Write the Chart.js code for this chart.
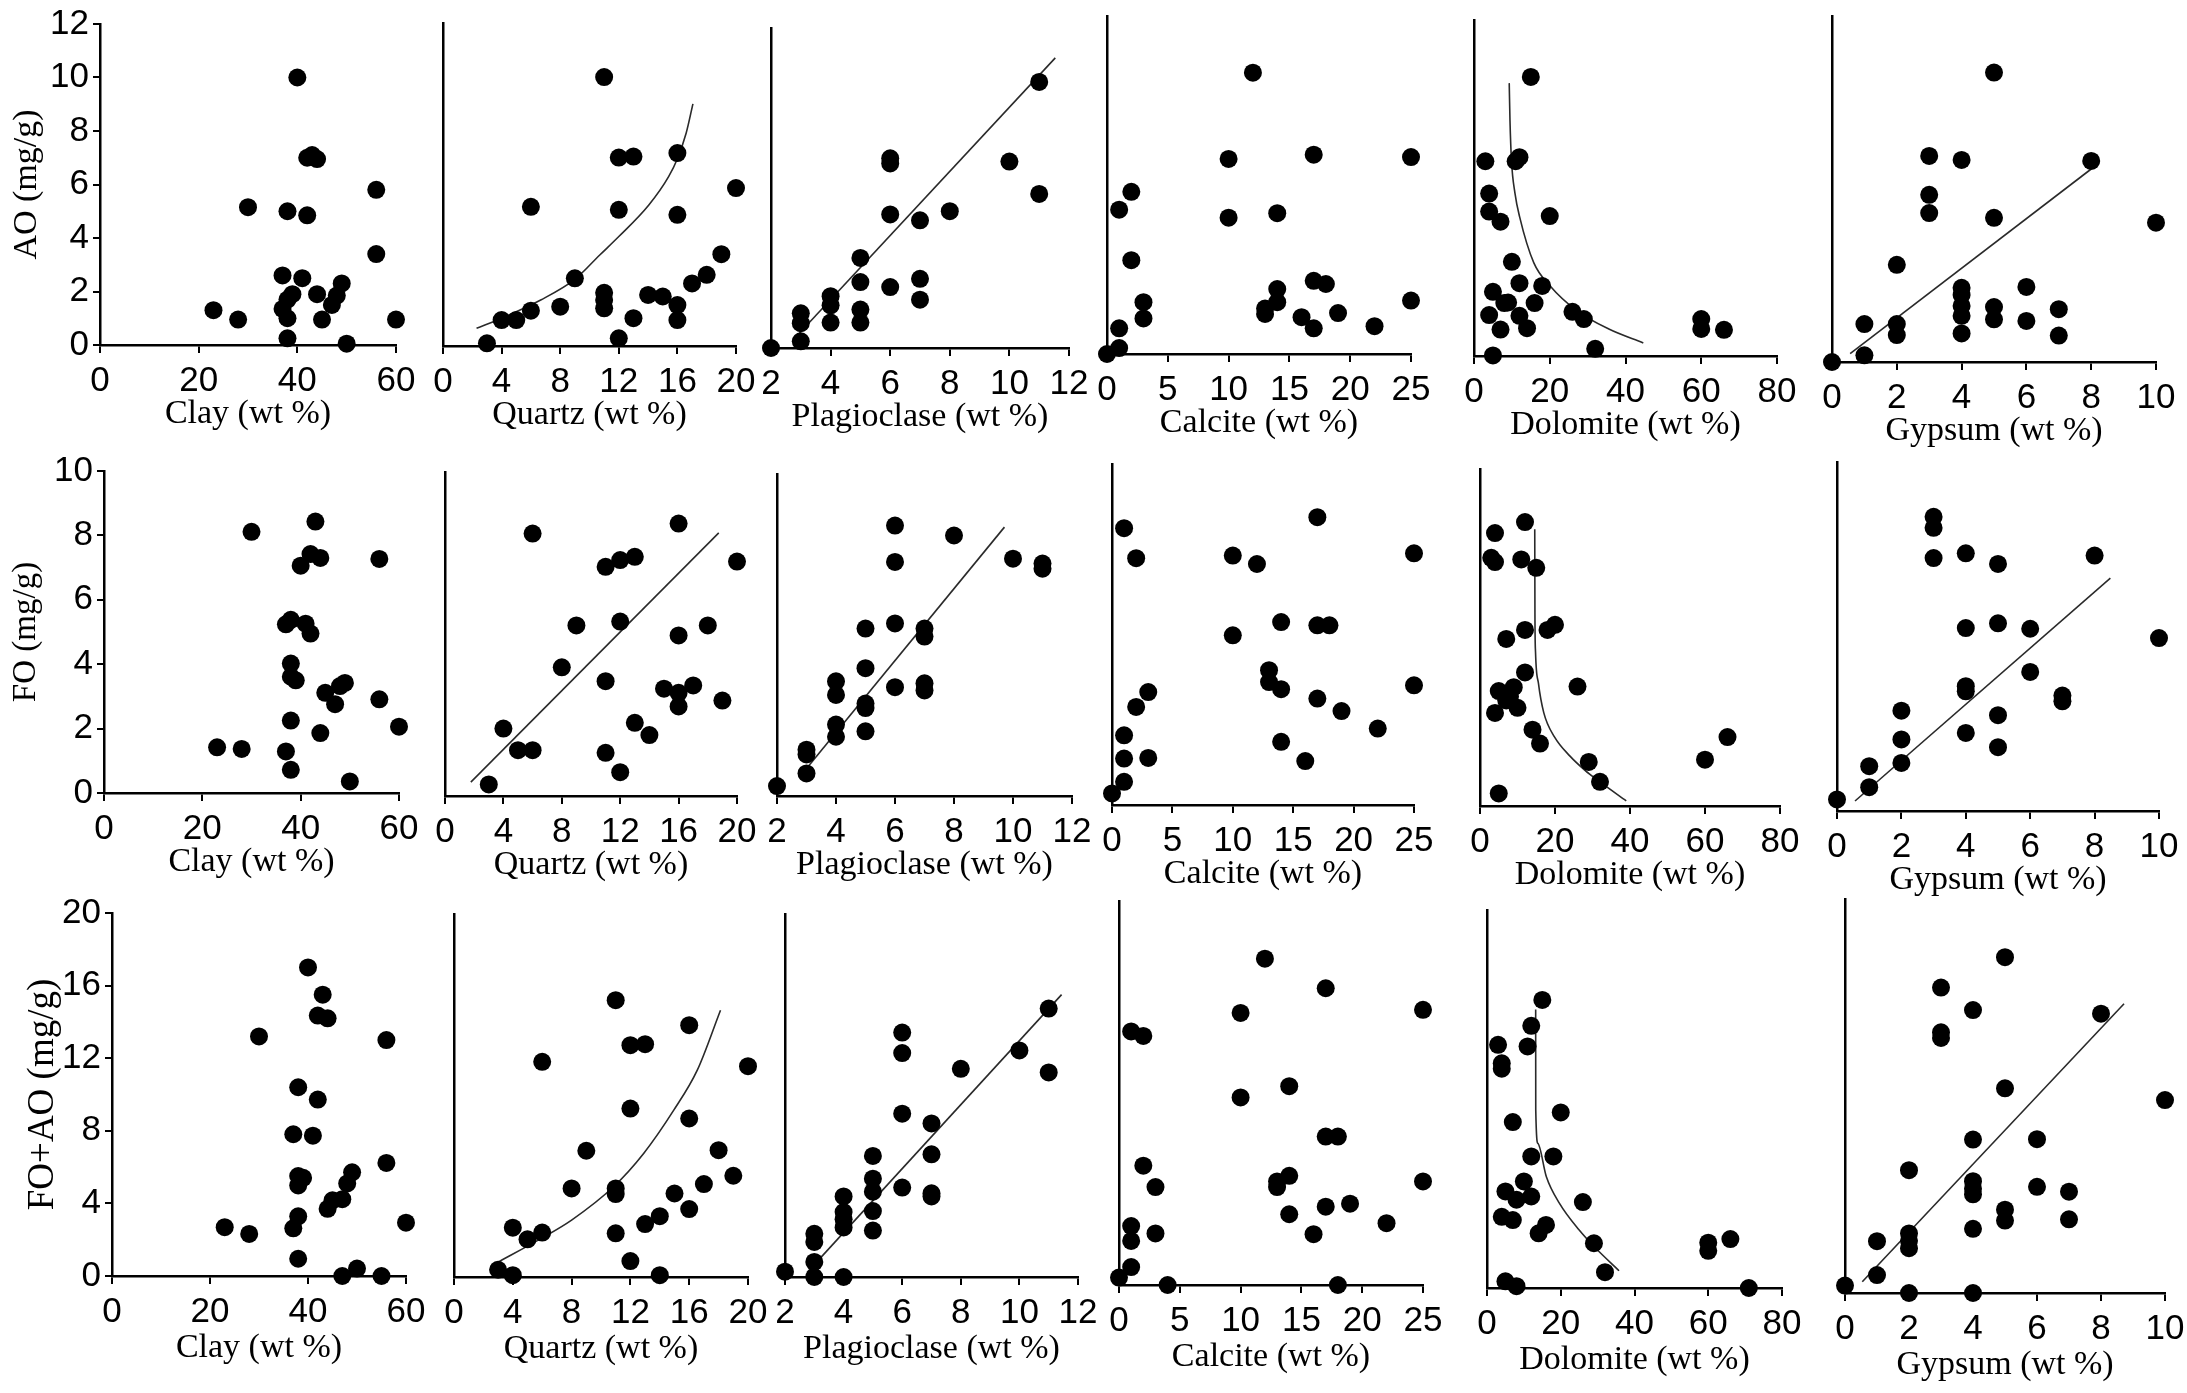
<!DOCTYPE html>
<html>
<head>
<meta charset="utf-8">
<script src="https://cdn.jsdelivr.net/npm/chart.js@4/dist/chart.umd.min.js"></script>
<style>
    html, body { margin: 0; padding: 0; background: #fff; }
    #wrap { position: relative; width: 2187px; height: 1393px; overflow: hidden; background: #fff; }
    #wrap canvas { position: absolute; }
</style>
</head>
<body>
<div id="wrap"></div>
<script>
'use strict';

// Tick labels
var clayTicks = [0, 20, 40, 60];
var quartzTicks = [0, 4, 8, 12, 16, 20];
var plagTicks = [2, 4, 6, 8, 10, 12];
var calciteTicks = [0, 5, 10, 15, 20, 25];
var dolomiteTicks = [0, 20, 40, 60, 80];
var gypsumTicks = [0, 2, 4, 6, 8, 10];
var aoTicks = [0, 2, 4, 6, 8, 10, 12];
var foTicks = [0, 2, 4, 6, 8, 10];
var sumTicks = [0, 4, 8, 12, 16, 20];

// Row 1: AO (mg/g)
var clayAO = [[23,1.3],[28,0.95],[30,5.15],[37,2.6],[37,1.35],[38,5.0],[38,1.7],[38,1.0],[38,0.25],[39,1.9],[40,10.0],[41,2.5],[42,4.85],[42,7.0],[43,7.1],[44,6.95],[44,1.9],[45,0.95],[47,1.5],[48,1.85],[49,2.3],[50,0.05],[56,5.8],[56,3.4],[60,0.95]];
var quartzAO = [[3,0.1],[4,0.97],[5,0.97],[6,1.32],[6,5.2],[8,1.47],[9,2.53],[11,10.05],[11,1.99],[11,1.72],[11,1.41],[12,7.04],[12,5.09],[12,0.29],[13,7.08],[13,1.04],[14,1.91],[15,1.85],[16,7.21],[16,4.9],[16,1.53],[16,0.97],[17,2.34],[18,2.66],[19,3.43],[20,5.9]];
var quartzAOFit = [[2.29,0.66],[4,1.04],[6.67,1.72],[9.02,2.5],[10.7,3.4],[12,4.09],[14.05,5.27],[15.4,6.33],[16,7.0],[16.6,7.96],[17.06,9.05]];
var plagAO = [[2,0],[3,0.25],[3,0.93],[3,1.3],[4,0.95],[4,1.6],[4,1.94],[5,0.95],[5,1.44],[5,2.47],[5,3.37],[6,2.28],[6,5.0],[6,6.91],[6,7.1],[7,1.81],[7,2.59],[7,4.78],[8,5.12],[10,6.98],[11,5.77],[11,9.96]];
var plagAOFit = [[2.95,0.55],[11.54,10.86]];
var calciteAO = [[0,0],[1,0.22],[1,0.96],[1,5.4],[2,6.07],[2,3.51],[3,1.94],[3,1.33],[10,7.3],[10,5.1],[12,10.53],[13,1.7],[13,1.5],[14,5.27],[14,2.43],[14,1.94],[16,1.38],[17,7.46],[17,2.74],[17,0.96],[18,2.62],[19,1.53],[22,1.04],[25,7.37],[25,2.0]];
var dolomiteAO = [[3,7.28],[4,6.07],[4,5.4],[7,5.02],[11,7.28],[12,7.43],[15,10.43],[20,5.23],[10,3.52],[5,2.4],[12,2.72],[18,2.62],[4,1.53],[8,1.98],[9,2.0],[16,1.98],[12,1.5],[7,0.99],[14,1.04],[26,1.65],[29,1.38],[5,0.02],[32,0.27],[60,1.38],[60,1.01],[66,0.98]];
var dolomiteAOFit = [[9.3,10.2],[9.5,8.8],[9.9,7.3],[10.8,6.1],[12.05,5.2],[15.8,3.48],[20.1,2.62],[27.2,1.69],[35.6,1.01],[44.7,0.49]];
var gypsumAO = [[0,0],[1,0.25],[1,1.42],[2,1.42],[2,1.01],[2,3.64],[3,7.72],[3,6.26],[3,5.58],[4,7.57],[4,2.78],[4,2.51],[4,2.1],[4,1.73],[4,1.07],[5,10.84],[5,5.4],[5,2.06],[5,1.6],[6,2.81],[6,1.54],[7,1.98],[7,0.99],[8,7.53],[10,5.22]];
var gypsumAOFit = [[0.56,0.31],[7.99,7.22]];

// Row 2: FO (mg/g)
var clayFO = [[23,1.42],[28,1.37],[30,8.11],[37,5.24],[38,5.38],[38,4.02],[38,3.61],[39,3.5],[38,2.25],[37,1.29],[38,0.72],[40,7.06],[41,5.26],[42,4.95],[42,7.42],[43,8.43],[44,7.3],[44,1.86],[45,3.11],[47,2.76],[48,3.32],[49,3.42],[50,0.36],[56,7.27],[56,2.91],[60,2.06]];
var quartzFO = [[3,0.36],[4,2.09],[5,1.42],[6,1.42],[6,8.14],[8,3.99],[9,5.29],[11,7.11],[11,3.56],[11,1.34],[12,7.32],[12,5.41],[12,0.74],[13,7.42],[13,2.27],[14,1.89],[15,3.33],[16,8.45],[16,4.98],[16,3.2],[16,2.78],[17,3.43],[18,5.29],[19,2.96],[20,7.27]];
var quartzFOFit = [[1.77,0.43],[18.75,8.16]];
var plagFO = [[2,0.31],[3,0.7],[3,1.29],[3,1.44],[4,3.56],[4,3.14],[4,2.22],[4,1.84],[5,5.2],[5,3.97],[5,2.87],[5,2.73],[5,2.01],[6,8.4],[6,7.27],[6,5.36],[6,3.38],[7,5.2],[7,4.95],[7,3.5],[7,3.28],[8,8.09],[10,7.37],[11,7.22],[11,7.06]];
var plagFOFit = [[3.07,0.93],[9.71,8.35]];
var calciteFO = [[0,0.36],[1,0.72],[1,1.44],[1,2.16],[1,8.58],[2,7.65],[2,3.04],[3,3.5],[3,1.46],[10,7.73],[10,5.26],[12,7.47],[13,4.18],[13,3.81],[14,5.67],[14,3.59],[14,1.96],[16,1.36],[17,8.92],[17,5.57],[17,3.3],[18,5.57],[19,2.91],[22,2.37],[25,7.8],[25,3.71]];
var dolomiteFO = [[4,8.48],[3,7.71],[4,7.58],[12,8.82],[11,7.66],[15,7.4],[5,0.39],[7,5.19],[12,5.47],[18,5.47],[20,5.63],[12,4.15],[5,3.57],[9,3.69],[8,3.4],[7,3.28],[10,3.05],[4,2.89],[26,3.71],[14,2.37],[16,1.94],[29,1.37],[32,0.75],[60,1.44],[66,2.14]];
var dolomiteFOFit = [[14.6,8.6],[14.65,6.0],[14.8,4.8],[15.6,3.8],[17,2.9],[19.9,2.14],[24,1.55],[28,1.11],[32,0.75],[39,0.16]];
var gypsumFO = [[0,0.36],[1,0.74],[1,1.39],[2,1.49],[2,2.22],[2,3.11],[3,9.12],[3,8.78],[3,7.84],[4,7.99],[4,5.67],[4,3.87],[4,3.71],[4,2.42],[5,7.66],[5,5.82],[5,2.97],[5,1.98],[6,5.65],[6,4.31],[7,3.58],[7,3.4],[8,7.92],[10,5.36]];
var gypsumFOFit = [[0.56,0.31],[8.49,7.22]];

// Row 3: FO+AO (mg/g)
var claySum = [[23,2.69],[28,2.32],[30,13.2],[37,7.81],[37,2.63],[38,10.4],[38,5.51],[39,5.41],[38,4.99],[38,3.29],[38,0.95],[40,17.0],[41,7.73],[42,9.72],[42,14.35],[43,15.5],[44,14.2],[44,3.7],[45,4.17],[47,4.23],[47,0],[48,5.1],[49,5.71],[50,0.41],[55,0],[56,13.0],[56,6.23],[60,2.94]];
var quartzSum = [[3,0.4],[4,0.1],[4,2.72],[5,2.08],[6,2.45],[6,11.88],[8,4.89],[9,6.97],[11,15.28],[11,4.89],[11,4.58],[11,2.41],[12,12.8],[12,9.3],[12,0.88],[13,12.85],[13,2.92],[14,3.36],[14,0.1],[15,4.61],[16,13.9],[16,8.75],[16,3.75],[17,5.13],[18,7.0],[19,5.59],[20,11.64]];
var quartzSumFit = [[2.86,0.76],[5.94,2.13],[8.0,3.14],[10.85,4.98],[12.9,6.82],[14.95,9.21],[16.55,11.42],[18.13,14.73]];
var plagSum = [[2,0.29],[3,0],[3,0.83],[3,1.93],[3,2.38],[4,0],[4,2.73],[4,3.18],[4,3.58],[4,4.44],[5,2.56],[5,3.63],[5,4.7],[5,5.42],[5,6.67],[6,4.93],[6,9.0],[6,12.34],[6,13.47],[7,4.44],[7,4.61],[7,6.76],[7,8.46],[8,11.47],[10,12.48],[11,14.79],[11,11.27]];
var plagSumFit = [[2.75,0.24],[11.44,15.56]];
var calciteSum = [[0,0.41],[1,0.99],[1,2.43],[1,3.25],[1,13.98],[2,13.73],[2,6.58],[3,5.4],[3,2.84],[4,0],[10,15.0],[10,10.34],[12,17.99],[13,5.71],[13,5.4],[14,6.02],[14,10.96],[14,3.9],[16,2.8],[17,16.36],[17,8.18],[18,8.18],[17,4.32],[18,0],[19,4.48],[22,3.41],[25,15.17],[25,5.71]];
var dolomiteSum = [[15,15.9],[12,14.47],[3,13.42],[11,13.33],[4,12.4],[4,12.1],[7,9.16],[20,9.69],[12,7.26],[18,7.26],[10,5.88],[5,5.33],[8,4.87],[12,5.05],[26,4.74],[4,3.93],[7,3.75],[16,3.48],[14,3.02],[29,2.47],[32,0.87],[5,0.37],[8,0.1],[60,2.5],[60,2.05],[66,2.7],[71,0]];
var dolomiteSumFit = [[13.2,15.37],[13.22,9.83],[13.8,7.98],[16.1,6.14],[19.66,4.67],[25.0,3.2],[29.5,2.19],[35.8,0.95]];
var gypsumSum = [[0,0.41],[1,0.99],[1,2.86],[2,0],[2,3.29],[2,2.88],[2,2.47],[2,6.78],[3,16.86],[3,14.39],[3,14.08],[4,15.62],[4,8.47],[4,6.17],[4,5.76],[4,5.45],[4,3.54],[4,0],[5,18.54],[5,11.3],[5,4.6],[5,4.0],[6,8.49],[6,5.86],[7,5.59],[7,4.07],[8,15.42],[10,10.65]];
var gypsumSumFit = [[0.54,0.62],[8.72,15.97]];

var columns = [
    { title: 'Clay (wt %)', ticks: clayTicks, min: 0, max: 60 },
    { title: 'Quartz (wt %)', ticks: quartzTicks, min: 0, max: 20 },
    { title: 'Plagioclase (wt %)', ticks: plagTicks, min: 2, max: 12 },
    { title: 'Calcite (wt %)', ticks: calciteTicks, min: 0, max: 25 },
    { title: 'Dolomite (wt %)', ticks: dolomiteTicks, min: 0, max: 80 },
    { title: 'Gypsum (wt %)', ticks: gypsumTicks, min: 0, max: 10 }
];

// Layout: each box is [plot left, plot right, pixel of y = 0, value at top of the axis line]
var rows = [
    {
        yTitle: 'AO (mg/g)', yTicks: aoTicks, titleSize: 34, ppu: 26.73, yW: 93, xH: 89,
        series: [clayAO, quartzAO, plagAO, calciteAO, dolomiteAO, gypsumAO],
        fits: [null, quartzAOFit, plagAOFit, null, dolomiteAOFit, gypsumAOFit],
        boxes: [[100, 396, 344.5, 12], [442.5, 735, 346, 12.07], [771, 1069, 348, 11.98],
                [1107, 1411, 354.5, 12.65], [1474, 1777, 356, 12.56], [1831.5, 2155, 362, 12.96]]
    },
    {
        yTitle: 'FO (mg/g)', yTicks: foTicks, titleSize: 33, ppu: 32.22, yW: 97, xH: 89,
        series: [clayFO, quartzFO, plagFO, calciteFO, dolomiteFO, gypsumFO],
        fits: [null, quartzFOFit, plagFOFit, null, dolomiteFOFit, gypsumFOFit],
        boxes: [[104, 399, 793.6, 10], [444.5, 736.5, 796, 10.05], [777, 1071.5, 796, 10.0],
                [1111.5, 1413, 805, 10.57], [1479.5, 1779, 806, 10.47], [1836.5, 2158.5, 811, 10.82]]
    },
    {
        yTitle: 'FO+AO (mg/g)', yTicks: sumTicks, titleSize: 37, ppu: 18.13, yW: 91, xH: 92,
        series: [claySum, quartzSum, plagSum, calciteSum, dolomiteSum, gypsumSum],
        fits: [null, quartzSumFit, plagSumFit, null, dolomiteSumFit, gypsumSumFit],
        boxes: [[111.7, 405.5, 1276, 20], [454, 747.6, 1277, 20.04], [785, 1078, 1277, 20],
                [1119, 1423, 1285, 21.17], [1487, 1782, 1288, 20.86], [1844.6, 2165, 1293, 21.75]]
    }
];

var PAD = 30;
var TICK_FONT = { family: "'Liberation Sans Narrow', 'Liberation Sans', Arial, sans-serif", size: 35 };
var TITLE_FAMILY = "'Liberation Serif', 'Times New Roman', serif";

function toPoints(list) {
    return list.map(function (p) { return { x: p[0], y: p[1] }; });
}

function buildPanel(row, col) {
    var box = row.boxes[col.index];
    var first = col.index === 0;
    var yW = first ? row.yW : 0;
    var plotTop = box[2] - box[3] * row.ppu;
    var plotH = Math.round(box[2] - plotTop);
    var plotW = Math.round(box[1] - box[0]);
    var left = Math.round(box[0] - PAD - yW);
    var top = Math.round(plotTop - PAD);
    var width = PAD + yW + plotW + PAD;
    var height = PAD + plotH + row.xH + PAD;

    var canvas = document.createElement('canvas');
    canvas.width = width;
    canvas.height = height;
    canvas.style.left = left + 'px';
    canvas.style.top = top + 'px';
    canvas.style.width = width + 'px';
    canvas.style.height = height + 'px';
    document.getElementById('wrap').appendChild(canvas);

    var datasets = [{
        data: toPoints(row.series[col.index]),
        backgroundColor: '#000',
        borderWidth: 0,
        pointRadius: 9,
        pointHoverRadius: 9,
        showLine: false,
        clip: false,
        order: 1
    }];
    var fit = row.fits[col.index];
    if (fit) {
        datasets.push({
            data: toPoints(fit),
            showLine: true,
            borderColor: '#2a2a2a',
            borderWidth: 1.6,
            pointRadius: 0,
            cubicInterpolationMode: fit.length > 2 ? 'monotone' : 'default',
            clip: false,
            order: 2
        });
    }

    new Chart(canvas.getContext('2d'), {
        type: 'scatter',
        data: { datasets: datasets },
        options: {
            responsive: false,
            animation: false,
            devicePixelRatio: 1,
            layout: { padding: PAD },
            plugins: { legend: { display: false }, tooltip: { enabled: false } },
            scales: {
                x: {
                    type: 'linear',
                    min: col.min,
                    max: col.max,
                    afterBuildTicks: function (s) { s.ticks = col.ticks.map(function (v) { return { value: v }; }); },
                    afterFit: function (s) { s.height = row.xH; },
                    border: { display: true, color: '#000', width: 2.5 },
                    grid: { display: true, drawOnChartArea: false, drawTicks: true, tickLength: 8, color: '#000', lineWidth: 2 },
                    ticks: { font: TICK_FONT, color: '#000', padding: 7, maxRotation: 0, autoSkip: false },
                    title: { display: true, text: col.title, color: '#000', font: { family: TITLE_FAMILY, size: 34 }, padding: { top: 0, bottom: 0 } }
                },
                y: {
                    type: 'linear',
                    min: 0,
                    max: box[3],
                    afterBuildTicks: function (s) {
                        if (first) s.ticks = row.yTicks.map(function (v) { return { value: v }; });
                    },
                    afterFit: function (s) { s.width = yW; },
                    border: { display: true, color: '#000', width: 2.5 },
                    grid: { display: true, drawOnChartArea: false, drawTicks: first, tickLength: 7, color: '#000', lineWidth: 2 },
                    ticks: { display: first, font: TICK_FONT, color: '#000', padding: 4 },
                    title: { display: first, text: row.yTitle, color: '#000', font: { family: TITLE_FAMILY, size: row.titleSize }, padding: { top: 0, bottom: 0 } }
                }
            }
        }
    });
}

rows.forEach(function (row) {
    columns.forEach(function (col, i) {
        col.index = i;
        buildPanel(row, col);
    });
});
</script>
</body>
</html>
